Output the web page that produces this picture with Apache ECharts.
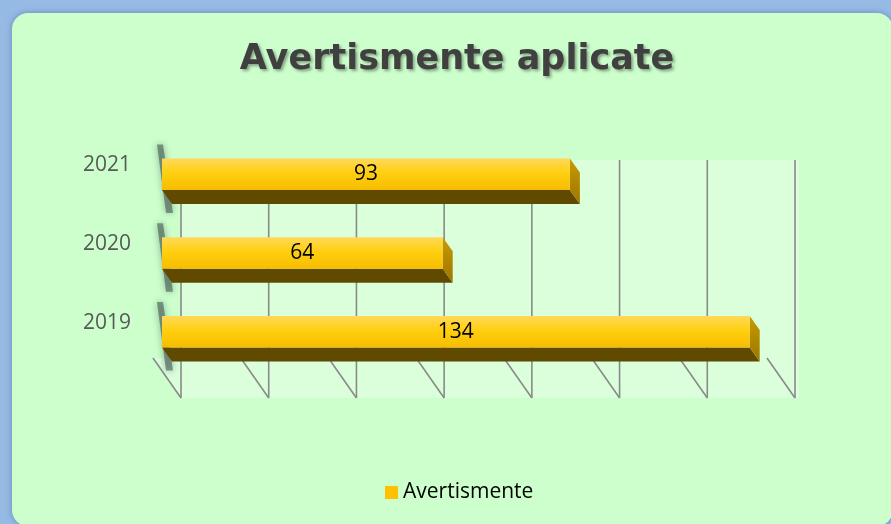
<!DOCTYPE html>
<html>
<head>
<meta charset="utf-8">
<script src="https://cdn.jsdelivr.net/npm/echarts@6/dist/echarts.min.js"></script>
<style>
html, body { margin: 0; padding: 0; background: #95bbe5; }
#main { width: 891px; height: 524px; }
</style>
</head>
<body>
<div id="main"></div>
<script>
// date
var years = ['2019', '2020', '2021'];
var avertismente = [134, 64, 93];
var xTicks = [0, 20, 40, 60, 80, 100, 120, 140];

var chart = echarts.init(document.getElementById('main'));

// adancimea barelor si a peretelui din spate (efect 3D)
var BAR_DX = 10, BAR_DY = 14;
var WALL_DX = 19, WALL_TOP = 25, WALL_BOTTOM = 27;
var FRONT_DX = -9, FRONT_DY = -13;

function renderGrid(params, api) {
	var cs = params.coordSys;
	var x = api.coord([api.value(0), 0])[0];
	var top = cs.y + WALL_TOP;
	var bottom = cs.y + cs.height + WALL_BOTTOM;
	var frontY = cs.y + cs.height + FRONT_DY;
	var children = [];
	if (params.dataIndex === 0) {
		// peretele din spate si podeaua
		children.push({
			type: 'polygon',
			shape: { points: [[cs.x + WALL_DX, top], [cs.x + cs.width + WALL_DX + 4, top],
				[cs.x + cs.width + WALL_DX + 4, bottom], [cs.x + WALL_DX, bottom]] },
			style: { fill: 'rgba(255,255,255,0.3)' }
		});
		children.push({
			type: 'polygon',
			shape: { points: [[cs.x + FRONT_DX, frontY], [cs.x + WALL_DX, frontY], [cs.x + WALL_DX, bottom]] },
			style: { fill: 'rgba(255,255,255,0.3)' }
		});
	}
	children.push({
		type: 'line',
		shape: { x1: x + WALL_DX, y1: top, x2: x + WALL_DX, y2: bottom },
		style: { stroke: '#8a8a8a', lineWidth: 1.6 }
	});
	children.push({
		type: 'line',
		shape: { x1: x + FRONT_DX, y1: frontY, x2: x + WALL_DX, y2: bottom },
		style: { stroke: '#8a8a8a', lineWidth: 1.6 }
	});
	return { type: 'group', children: children };
}

function renderBar(params, api) {
	var idx = api.value(1);
	var val = api.value(0);
	var p0 = api.coord([0, idx]);
	var p1 = api.coord([val, idx]);
	var h = api.size([0, 1])[1] * 0.4;
	var x0 = p0[0], x1 = p1[0];
	var yt = p0[1] - h / 2, yb = p0[1] + h / 2;
	return {
		type: 'group',
		children: [
			{ // umbra din stanga
				type: 'polygon',
				shape: { points: [[x0 - 5, yt - 14], [x0 + 1, yt - 14], [x0 + BAR_DX + 1, yb + BAR_DY + 9], [x0 + BAR_DX - 6, yb + BAR_DY + 9]] },
				style: { fill: 'rgba(50,65,65,0.5)', shadowBlur: 7, shadowColor: 'rgba(40,60,60,0.8)' }
			},
			{ // fata de jos
				type: 'polygon',
				shape: { points: [[x0, yb], [x1, yb], [x1 + BAR_DX, yb + BAR_DY], [x0 + BAR_DX, yb + BAR_DY]] },
				style: { fill: '#5f4a00' }
			},
			{ // fata laterala
				type: 'polygon',
				shape: { points: [[x1, yt], [x1 + BAR_DX, yt + BAR_DY], [x1 + BAR_DX, yb + BAR_DY], [x1, yb]] },
				style: {
					fill: new echarts.graphic.LinearGradient(0, 0, 0, 1, [
						{ offset: 0, color: '#c99a00' }, { offset: 1, color: '#9c7600' }])
				}
			},
			{ // fata din fata + eticheta
				type: 'rect',
				shape: { x: x0, y: yt, width: x1 - x0, height: h },
				style: {
					fill: new echarts.graphic.LinearGradient(0, 0, 0, 1, [
						{ offset: 0, color: '#ffd95a' }, { offset: 0.45, color: '#ffcf10' },
						{ offset: 1, color: '#f7bd00' }])
				},
				textContent: {
					style: { text: String(val), fill: '#000000', font: '21px "Open Sans"' }
				},
				textConfig: { position: 'inside' }
			}
		]
	};
}

var option = {
	backgroundColor: '#95bbe5',
	graphic: [{
		type: 'rect',
		shape: { x: 12, y: 13, width: 881, height: 513, r: 16 },
		style: { fill: '#ccffcc', shadowBlur: 6, shadowColor: 'rgba(60,90,140,0.5)' },
		z: -10
	}],
	title: {
		text: 'Avertismente aplicate',
		left: 452,
		top: 37,
		textAlign: 'center',
		textStyle: {
			fontFamily: 'DejaVu Sans',
			fontWeight: 'bold',
			fontSize: 35,
			color: '#404040',
			textShadowColor: 'rgba(0,0,0,0.35)',
			textShadowBlur: 3,
			textShadowOffsetX: 2,
			textShadowOffsetY: 2
		}
	},
	legend: {
		data: ['Avertismente'],
		left: 385,
		top: 482,
		padding: 0,
		icon: 'rect',
		itemWidth: 13,
		itemHeight: 13,
		textStyle: { fontFamily: 'Open Sans', fontSize: 21, color: '#000000' }
	},
	grid: { left: 162, right: 115, top: 135, bottom: 153 },
	xAxis: {
		type: 'value',
		min: 0,
		max: 140,
		interval: 20,
		show: false
	},
	yAxis: {
		type: 'category',
		data: years,
		axisLine: { show: false },
		axisTick: { show: false },
		axisLabel: {
			margin: 31,
			verticalAlign: 'bottom',
			lineHeight: 18,
			fontFamily: 'Open Sans',
			fontSize: 21,
			color: '#595959'
		}
	},
	series: [{
		type: 'custom',
		name: 'grila',
		silent: true,
		renderItem: renderGrid,
		data: xTicks.map(function (v) { return [v, 0]; }),
		encode: { x: 0, y: 1 },
		z: 1
	}, {
		type: 'custom',
		name: 'Avertismente',
		renderItem: renderBar,
		itemStyle: { color: '#ffc000' },
		data: avertismente.map(function (v, i) { return [v, i]; }),
		encode: { x: 0, y: 1 },
		z: 2
	}]
};
chart.setOption(option);
</script>
</body>
</html>
